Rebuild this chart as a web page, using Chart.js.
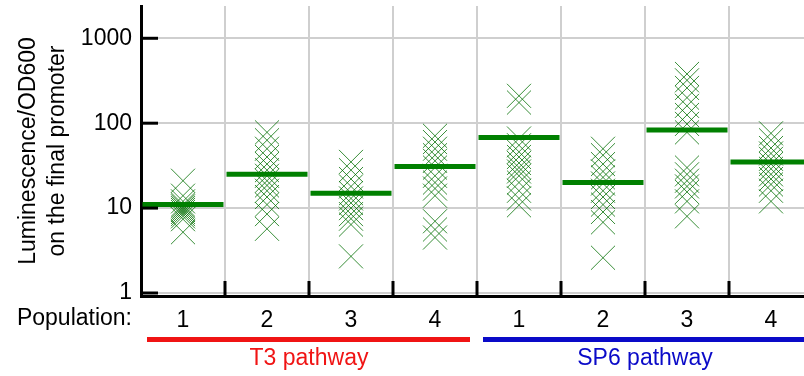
<!DOCTYPE html>
<html>
<head>
<meta charset="utf-8">
<script src="https://cdn.jsdelivr.net/npm/chart.js@4.4.1/dist/chart.umd.min.js"></script>
<style>
  html, body { margin: 0; padding: 0; background: #fff; overflow: hidden; }
  body { width: 804px; height: 376px; }
</style>
</head>
<body>
<canvas id="luminescence-chart" width="820" height="376"></canvas>
<script>
// x categories and groups
const populations = ['1', '2', '3', '4', '1', '2', '3', '4'];
const pathways = ['T3 pathway', 'SP6 pathway'];
const pathwayRanges = [[0, 3], [4, 7]];
const pathwayColors = ['#f01414', '#0a0ac8'];
const yTicks = [1, 10, 100, 1000];

const t3Pop1 = [21, 14, 12, 11, 10.5, 10, 9.5, 9, 8.5, 8, 7.4, 5.2];
const t3Pop2 = [78, 63, 50, 40, 33, 28, 24, 21, 18.5, 16, 13.5, 11, 8.5, 5.7];
const t3Pop3 = [35, 28, 22, 18, 15, 13, 11.5, 10, 8.5, 7.5, 6.4, 2.7];
const t3Pop4 = [71, 60, 50, 42, 36, 30, 24, 20, 17, 14, 7, 5.6, 4.5];
const sp6Pop1 = [210, 175, 66, 55, 46, 40, 34, 30, 27, 24, 20, 16, 13, 10.8];
const sp6Pop2 = [50, 42, 33, 27, 23, 19.5, 16, 13.5, 11, 9, 6.8, 2.6];
const sp6Pop3 = [380, 320, 260, 200, 160, 125, 98, 78, 30, 25, 21, 18, 15.5, 12, 8];
const sp6Pop4 = [76, 63, 51, 44, 38, 33, 29, 25, 22, 19, 16, 12];

const medians = [11, 25, 15, 31, 68, 20, 83, 35];

const replicates = [t3Pop1, t3Pop2, t3Pop3, t3Pop4, sp6Pop1, sp6Pop2, sp6Pop3, sp6Pop4];

const fontFamily = "'Liberation Sans', Arial, sans-serif";
const labelFont = { family: fontFamily, size: 23 };

const crossPoints = replicates.flatMap((values, index) => values.map(v => ({ x: index, y: v })));
const medianPoints = medians.map((v, index) => ({ x: index, y: v }));

// big point markers would otherwise push the plot area in from the top and right
Chart.ScatterController.prototype.getMaxOverflow = function() { return 0 };

// inward ticks, population label and pathway bars
const decorations = {
  id: 'decorations',
  afterDraw(chart) {
    const { ctx, chartArea, scales: { x, y } } = chart;
    ctx.save();
    ctx.strokeStyle = '#000';
    ctx.lineWidth = 3;
    yTicks.forEach(v => {
      const py = y.getPixelForValue(v);
      ctx.beginPath();
      ctx.moveTo(chartArea.left, py);
      ctx.lineTo(chartArea.left + 17, py);
      ctx.stroke();
    });
    for (let i = 0; i < populations.length; i++) {
      const px = x.getPixelForValue(i + 0.5);
      ctx.beginPath();
      ctx.moveTo(px, chartArea.bottom);
      ctx.lineTo(px, chartArea.bottom - 15);
      ctx.stroke();
    }

    ctx.font = labelFont.size + 'px ' + fontFamily;
    ctx.fillStyle = '#000';
    ctx.textAlign = 'right';
    ctx.textBaseline = 'top';
    ctx.fillText('Population:', chartArea.left - 9, x.top + 11);

    pathways.forEach((name, i) => {
      const [first, last] = pathwayRanges[i];
      const x0 = x.getPixelForValue(first - 0.5) + 6;
      const x1 = x.getPixelForValue(last + 0.5) - 7;
      ctx.fillStyle = pathwayColors[i];
      ctx.fillRect(x0, chartArea.bottom + 41, x1 - x0, 5);
      ctx.textAlign = 'center';
      ctx.textBaseline = 'alphabetic';
      ctx.fillText(name, (x.getPixelForValue(first - 0.5) + x.getPixelForValue(last + 0.5)) / 2, chartArea.bottom + 69);
    });
    ctx.restore();
  }
};

const ctx = document.getElementById('luminescence-chart').getContext('2d');
new Chart(ctx, {
  type: 'scatter',
  data: {
    datasets: [
      {
        label: 'median',
        data: medianPoints,
        pointStyle: 'line',
        radius: 40.5,
        borderWidth: 5,
        borderColor: 'rgb(0,128,0)',
        backgroundColor: 'rgb(0,128,0)',
        order: 0
      },
      {
        label: 'replicates',
        data: crossPoints,
        pointStyle: 'crossRot',
        radius: 17,
        borderWidth: 1,
        borderColor: 'rgba(0,110,0,0.78)',
        backgroundColor: 'rgba(0,110,0,0.78)',
        order: 1
      }
    ]
  },
  options: {
    responsive: false,
    devicePixelRatio: 1,
    animation: false,
    events: [],
    layout: { padding: { top: 6, right: 7, left: 0, bottom: 0 } },
    scales: {
      x: {
        type: 'linear',
        min: -0.5,
        max: populations.length - 0.5,
        afterBuildTicks: scale => { scale.ticks = populations.map((p, i) => ({ value: i })) },
        afterFit: scale => { scale.height = 80 },
        grid: {
          offset: true,
          drawTicks: false,
          lineWidth: 2,
          color: c => c.index === 0 ? 'rgba(0,0,0,0)' : '#cfcfcf'
        },
        border: { display: true, color: '#000', width: 3 },
        ticks: {
          padding: 11,
          color: '#000',
          font: labelFont,
          autoSkip: false,
          maxRotation: 0,
          callback: value => populations[value]
        }
      },
      y: {
        type: 'logarithmic',
        min: 0.922,
        max: 2400,
        afterBuildTicks: scale => { scale.ticks = yTicks.map(v => ({ value: v })) },
        afterFit: scale => {
          scale.width = 141;
          scale.paddingTop = 0;
          scale.paddingBottom = 0;
        },
        grid: { drawTicks: false, lineWidth: 2, color: '#cfcfcf' },
        border: { display: true, color: '#000', width: 3 },
        ticks: {
          padding: 9,
          color: '#000',
          font: labelFont,
          callback: value => String(value)
        },
        title: {
          display: true,
          text: ['Luminescence/OD600', 'on the final promoter'],
          color: '#000',
          font: { family: fontFamily, size: 23, lineHeight: 1.26 },
          padding: { top: 14, bottom: 0 }
        }
      }
    },
    plugins: {
      legend: { display: false },
      tooltip: { enabled: false }
    }
  },
  plugins: [decorations]
});
</script>
</body>
</html>
